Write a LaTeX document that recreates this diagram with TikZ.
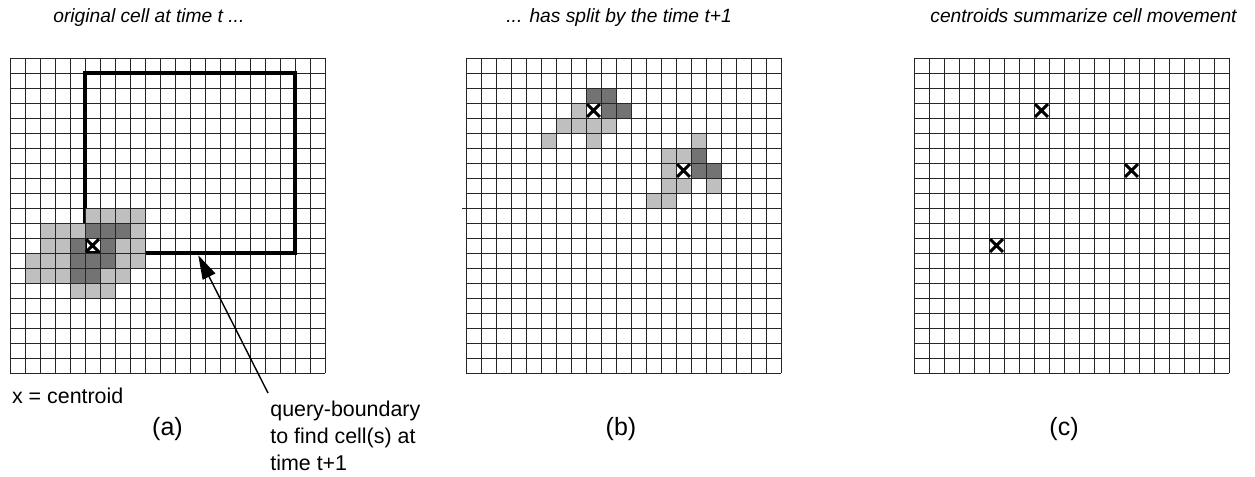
\documentclass[tikz,border=0pt]{standalone}
\usepackage{fontspec}
\setmainfont{Liberation Sans}
\usetikzlibrary{arrows.meta}

\tikzset{
  gridline/.style={line width=0.5pt, black!85},
  lightcell/.style={draw=black!85, line width=0.5pt, fill=black!25},
  darkcell/.style={draw=black!85, line width=0.5pt, fill=black!55},
  cross/.style={line width=1.5pt},
  boundary/.style={line width=1.6pt},
  pointer/.style={line width=0.7pt, -{Triangle[length=12pt, width=7pt]}},
  heading/.style={font=\fontsize{9.6}{12}\selectfont\itshape, inner sep=0pt},
  note/.style={font=\fontsize{10.7}{13.5}\selectfont, inner sep=0pt},
  tag/.style={font=\fontsize{12.5}{15}\selectfont, inner sep=0pt},
}

% empty 21x21 raster, in cell units
\newcommand{\raster}{%
  \foreach \k in {0,...,21} {
    \draw[gridline] (\k,0) -- (\k,21);
    \draw[gridline] (0,\k) -- (21,\k);
  }%
}
% centroid mark inside cell (#1,#2)
\newcommand{\centroidmark}[2]{%
  \draw[cross] (#1+0.07,#2+0.07) -- (#1+0.93,#2+0.93)
               (#1+0.93,#2+0.07) -- (#1+0.07,#2+0.93);%
}

\begin{document}
\begin{tikzpicture}[x=0.5pt, y=-0.5pt]
  \useasboundingbox (0,0) rectangle (1255,477);

  % headings
  \node[heading, anchor=base west] (heada) at (53,22) {original cell at time t ...};
  \node[heading, anchor=base west] (headb) at (506,22) {... has split by the time t+1};
  \node[heading, anchor=base west] (headc) at (930,22) {centroids summarize cell movement};

  % (a) original cell and its query boundary
  \begin{scope}[shift={(10,58)}, x=7.5pt, y=-7.5pt]
    \raster
    \draw[boundary] (5,1) rectangle (19,13);
    \foreach \col/\row in {5/10,6/10,7/10,8/10, 2/11,3/11,4/11,8/11,
                           2/12,3/12,7/12,8/12, 1/13,2/13,3/13,7/13,8/13,
                           1/14,2/14,3/14,6/14,7/14, 4/15,5/15,6/15}
      \draw[lightcell] (\col,\row) rectangle ++(1,1);
    \foreach \col/\row in {5/11,6/11,7/11, 4/12,6/12, 4/13,5/13,6/13, 4/14,5/14}
      \draw[darkcell] (\col,\row) rectangle ++(1,1);
    \centroidmark{5}{12}
    \coordinate (qtip) at (12.55,13.15);
  \end{scope}

  % (b) the cell has split in two
  \begin{scope}[shift={(466,58)}, x=7.5pt, y=-7.5pt]
    \raster
    \draw[gridline] (-0.27,10) -- (0,10);
    \foreach \col/\row in {7/3, 6/4,7/4,8/4,9/4, 5/5,8/5,
                           15/5, 13/6,14/6, 13/7, 13/8,14/8,16/8, 12/9,13/9}
      \draw[lightcell] (\col,\row) rectangle ++(1,1);
    \foreach \col/\row in {8/2,9/2, 9/3,10/3, 15/6, 15/7,16/7}
      \draw[darkcell] (\col,\row) rectangle ++(1,1);
    \centroidmark{8}{3}
    \centroidmark{14}{7}
  \end{scope}

  % (c) centroids only
  \begin{scope}[shift={(914,58)}, x=7.5pt, y=-7.5pt]
    \raster
    \foreach \col/\row in {8/3, 14/7, 5/12} {
      \centroidmark{\col}{\row}
    }
  \end{scope}

  % notes and panel tags
  \node[note, anchor=base west] (xnote) at (11.7,403) {x = centroid};
  \node[note, anchor=north west, align=left, inner xsep=1pt, inner ysep=3.8pt]
    (qnote) at (268,393) {query-boundary\\to find cell(s) at\\time t+1};
  \draw[pointer] (qnote.north west) -- (qtip);

  \node[tag, anchor=base] (taga) at (167.5,435) {(a)};
  \node[tag, anchor=base] (tagb) at (621,435) {(b)};
  \node[tag, anchor=base] (tagc) at (1064,435) {(c)};
\end{tikzpicture}
\end{document}
